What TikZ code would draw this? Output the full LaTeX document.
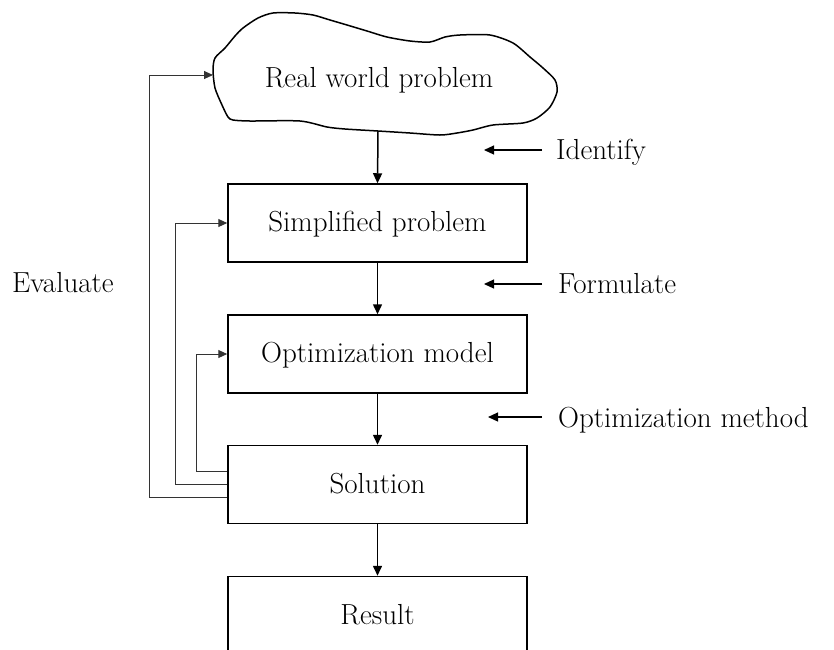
\documentclass[tikz,border=0pt]{standalone}
\usepackage{fontspec}
\usetikzlibrary{arrows.meta,calc}
\begin{document}
\begin{tikzpicture}[x=1pt,y=-1pt,
  font=\fontsize{29}{34}\selectfont\addfontfeatures{FakeBold=0.35},
  box/.style={draw, line width=1.5pt, minimum width=299pt, minimum height=78pt,
    inner sep=0pt, text height=20pt, text depth=3pt},
  arr/.style={line width=1.5pt, -{Triangle[length=10pt,width=9pt]}},
  fb/.style={line width=1pt, black!80, -{Triangle[length=9pt,width=8pt]}},
  lab/.style={anchor=base west, inner sep=0pt}]
\useasboundingbox (0,0) rectangle (834,649);
\clip (0,0) rectangle (834,649);
% cloud
\draw[line width=1.5pt] plot[smooth cycle, tension=0.45] coordinates {
  (243,28) (258,18) (273,13) (295,13) (313,15) (330,20) (347,25) (367,31)
  (387,37) (410,41) (430,42) (445,37) (460,35) (490,35) (513,43) (530,57)
  (543,68) (555,80) (557,92) (550,107) (537,118) (523,123) (493,125)
  (473,130) (457,133) (440,135) (410,133) (378,131) (345,129) (327,127)
  (300,121) (250,121) (233,120) (228,117) (222,105) (215,88) (213,70)
  (215,58) (225,48) (235,36)};
\node[anchor=base, inner sep=0pt] (real) at (379,87) {Real world problem};
\coordinate (cloudB) at (378,131);
\coordinate (cloudL) at (213,75);
% boxes
\node[box] (simp) at (377.5,223) {Simplified problem};
\node[box] (opt) at (377.5,354) {Optimization model};
\node[box] (sol) at (377.5,484.5) {Solution};
\node[box] (res) at (377.5,615.5) {Result};
% main arrows
\draw[arr] (cloudB) -- (simp.north);
\draw[arr] (simp.south) -- (opt.north);
\draw[arr] (opt.south) -- (sol.north);
\draw[arr] (sol.south) -- (res.north);
% feedback
\draw[fb] ([yshift=13pt]sol.west) -- ++(-31,0) |- (opt.west);
\draw[fb] (sol.west) -- ++(-52,0) |- (simp.west);
\draw[fb] ([yshift=-13pt]sol.west) -- ++(-78,0) |- (cloudL);
% side labels
\node[lab] (ident) at (556,159) {Identify};
\node[lab] (form) at (558,293) {Formulate};
\node[lab] (meth) at (558,427) {Optimization method};
\node[lab] (eval) at (12,292) {Evaluate};
\coordinate (identT) at (484,150);
\coordinate (formT) at (484,284);
\coordinate (methT) at (488,417);
\draw[arr, line width=1.2pt] ($(ident.west |- identT)+(-14,0)$) -- (identT);
\draw[arr, line width=1.2pt] ($(form.west |- formT)+(-16,0)$) -- (formT);
\draw[arr, line width=1.2pt] ($(meth.west |- methT)+(-16,0)$) -- (methT);
\end{tikzpicture}
\end{document}
